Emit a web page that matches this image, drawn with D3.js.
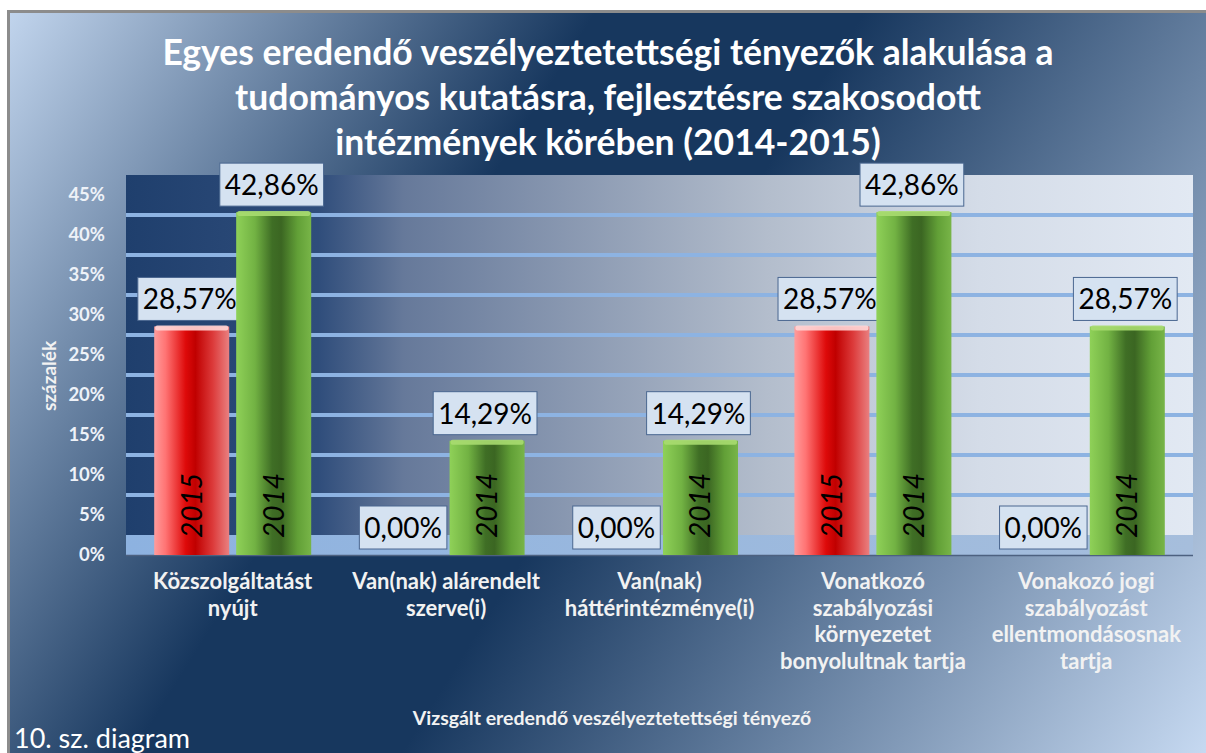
<!DOCTYPE html>
<html>
<head>
<meta charset="utf-8">
<script src="https://d3js.org/d3.v7.min.js"></script>
<style>
  html, body { margin: 0; padding: 0; background: #fff; }
  svg { display: block; font-family: Lato, "Open Sans", sans-serif; }
</style>
</head>
<body>
<div id="viz"></div>
<script>
// data
var categories = [
  'Közszolgáltatást\nnyújt',
  'Van(nak) alárendelt\nszerve(i)',
  'Van(nak)\nháttérintézménye(i)',
  'Vonatkozó\nszabályozási\nkörnyezetet\nbonyolultnak tartja',
  'Vonakozó jogi\nszabályozást\nellentmondásosnak\ntartja'
];
var series = ['2015', '2014'];
var values2015 = [28.57, 0, 0, 28.57, 0];
var values2014 = [42.86, 14.29, 14.29, 42.86, 28.57];
var yTicks = [0, 5, 10, 15, 20, 25, 30, 35, 40, 45];
var titleLines = [
  'Egyes eredendő veszélyeztetettségi tényezők alakulása a',
  'tudományos kutatásra, fejlesztésre szakosodott',
  'intézmények körében (2014-2015)'
];
var yTitle = 'százalék';
var xTitle = 'Vizsgált eredendő veszélyeztetettségi tényező';
var caption = '10. sz. diagram';

var width = 1206,
    height = 753,
    plotLeft = 126,
    plotRight = 1193,
    depth = 20;   // back wall sits a bit higher than the axis (3d look)

var svg = d3.select('#viz').append('svg')
  .attr('width', width)
  .attr('height', height);

var defs = svg.append('defs');

function linGrad(id, stops, x1, y1, x2, y2, user) {
  var g = defs.append('linearGradient').attr('id', id)
    .attr('x1', x1).attr('y1', y1).attr('x2', x2).attr('y2', y2);
  if (user) g.attr('gradientUnits', 'userSpaceOnUse');
  stops.forEach(function(s) {
    g.append('stop').attr('offset', s[0]).attr('stop-color', s[1]);
  });
}

linGrad('bg', [[0, '#c6d9f1'], [0.36, '#17375e'], [0.52, '#17375e'], [1, '#c6d9f1']], 0, 0, width, height, true);
linGrad('wall', [[0, '#1f3f6d'], [0.18, '#2f4d7b'], [0.26, '#66799a'], [0.6, '#b3bdcc'], [0.8, '#d4dce8'], [1, '#e2e9f3']], 0, 0, 1, 0);
linGrad('floor', [[0, '#8db2e0'], [1, '#a6bedc']], 0, 0, 1, 0);
linGrad('red', [[0, '#ff9c9c'], [0.15, '#ff7474'], [0.42, '#de0a0a'], [0.55, '#c00000'], [0.78, '#dc3a3a'], [1, '#e98080']], 0, 0, 1, 0);
linGrad('green', [[0, '#8fd158'], [0.25, '#72b243'], [0.48, '#3f6e25'], [0.6, '#3b6622'], [0.82, '#62a037'], [1, '#78b548']], 0, 0, 1, 0);

// background + frame
svg.append('rect')
  .attr('x', 8.5).attr('y', 11.5)
  .attr('width', width + 10).attr('height', height + 10)
  .attr('fill', 'url(#bg)')
  .attr('stroke', '#8c8c8c')
  .attr('stroke-width', 3);

var yScale = d3.scaleLinear()
  .domain([0, 45])
  .range([555, 195]);

var xScale = d3.scaleBand()
  .domain(categories)
  .range([plotLeft, plotRight]);

var xInner = d3.scaleBand()
  .domain(series)
  .range([0, xScale.bandwidth()])
  .paddingInner(0.085)
  .paddingOuter(0.344);

// back wall, floor, gridlines
svg.append('rect')
  .attr('x', plotLeft).attr('y', yScale(45) - depth)
  .attr('width', plotRight - plotLeft)
  .attr('height', yScale(0) - yScale(45))
  .attr('fill', 'url(#wall)');

svg.append('rect')
  .attr('x', plotLeft).attr('y', yScale(0) - depth)
  .attr('width', plotRight - plotLeft)
  .attr('height', depth)
  .attr('fill', 'url(#floor)');

svg.append('g').selectAll('line')
  .data(yTicks.filter(function(d) { return d > 0 && d < 45; }))
  .enter().append('line')
    .attr('x1', plotLeft).attr('x2', plotRight)
    .attr('y1', function(d) { return yScale(d) - depth; })
    .attr('y2', function(d) { return yScale(d) - depth; })
    .attr('stroke', '#8db3e2')
    .attr('stroke-width', 4);

svg.append('line')
  .attr('x1', plotLeft).attr('x2', plotRight)
  .attr('y1', yScale(0) + 0.5).attr('y2', yScale(0) + 0.5)
  .attr('stroke', '#4d6180')
  .attr('stroke-width', 1.5);

// y axis labels
svg.append('g').selectAll('text')
  .data(yTicks)
  .enter().append('text')
    .attr('x', 105)
    .attr('y', function(d) { return yScale(d); })
    .attr('dy', '0.35em')
    .attr('text-anchor', 'end')
    .attr('fill', '#eef2f8')
    .attr('font-weight', 700)
    .attr('font-size', 18.5)
    .text(function(d) { return d + '%'; });

svg.append('text')
  .attr('transform', 'translate(49,376) rotate(-90)')
  .attr('text-anchor', 'middle')
  .attr('dy', '0.35em')
  .attr('fill', '#f2f2f2')
  .attr('font-weight', 700)
  .attr('font-size', 19)
  .text(yTitle);

// bars
var rows = [];
categories.forEach(function(c, i) {
  rows.push({ cat: c, key: '2015', value: values2015[i] });
  rows.push({ cat: c, key: '2014', value: values2014[i] });
});

var bars = svg.append('g').selectAll('g')
  .data(rows)
  .enter().append('g')
    .attr('transform', function(d) {
      return 'translate(' + (xScale(d.cat) + xInner(d.key)) + ',0)';
    });

var bw = xInner.bandwidth();

bars.filter(function(d) { return d.value > 0; })
  .append('rect')
    .attr('x', 0)
    .attr('y', function(d) { return yScale(d.value); })
    .attr('width', bw)
    .attr('height', function(d) { return yScale(0) - yScale(d.value); })
    .attr('fill', function(d) { return d.key == '2015' ? 'url(#red)' : 'url(#green)'; });

// thin top face
bars.filter(function(d) { return d.value > 0; })
  .append('rect')
    .attr('x', 1)
    .attr('y', function(d) { return yScale(d.value) - 1; })
    .attr('width', bw - 2)
    .attr('height', 5)
    .attr('rx', 2)
    .attr('fill', function(d) { return d.key == '2015' ? '#ffd6d6' : '#a8dc70'; })
    .attr('opacity', 0.9);

// year inside bar
bars.filter(function(d) { return d.value > 0; })
  .append('text')
    .attr('transform', 'translate(' + (bw / 2) + ',538) rotate(-90)')
    .attr('dy', '0.35em')
    .attr('font-style', 'italic')
    .attr('font-size', 28)
    .attr('fill', '#000')
    .text(function(d) { return d.key; });

// value labels in boxes
var fmt = d3.format('.2f');
var labels = bars.append('g')
  .attr('transform', function(d) {
    return 'translate(' + (bw / 2 - 2) + ',' + (yScale(d.value) - 6) + ')';
  });

labels.append('rect')
  .attr('fill', '#d5e2f1')
  .attr('stroke', '#4a6790')
  .attr('stroke-width', 1);

labels.append('text')
  .attr('text-anchor', 'middle')
  .attr('y', -11)
  .attr('font-size', 28)
  .attr('fill', '#000')
  .text(function(d) { return fmt(d.value).replace('.', ',') + '%'; })
  .each(function() {
    var w = this.getComputedTextLength() + 10;
    d3.select(this.parentNode).select('rect')
      .attr('x', -w / 2).attr('y', -43)
      .attr('width', w).attr('height', 43);
  });

// category labels
svg.append('g').selectAll('text')
  .data(categories)
  .enter().append('text')
    .attr('text-anchor', 'middle')
    .attr('fill', '#f2f2f2')
    .attr('font-weight', 700)
    .attr('font-size', 22)
    .each(function(d) {
      var t = d3.select(this);
      d.split('\n').forEach(function(line, j) {
        t.append('tspan')
          .attr('x', xScale(d) + xScale.bandwidth() / 2)
          .attr('y', 589 + j * 26.5)
          .text(line);
      });
    });

svg.append('text')
  .attr('x', 612).attr('y', 725)
  .attr('text-anchor', 'middle')
  .attr('fill', '#f2f2f2')
  .attr('font-weight', 700)
  .attr('font-size', 19.5)
  .text(xTitle);

// title
svg.append('g').selectAll('text')
  .data(titleLines)
  .enter().append('text')
    .attr('x', 608)
    .attr('y', function(d, i) { return 65 + i * 45; })
    .attr('text-anchor', 'middle')
    .attr('fill', '#ffffff')
    .attr('font-weight', 700)
    .attr('font-size', 35.5)
    .text(function(d) { return d; });

svg.append('text')
  .attr('x', 14).attr('y', 748)
  .attr('fill', '#ffffff')
  .attr('font-size', 27)
  .text(caption);
</script>
</body>
</html>
